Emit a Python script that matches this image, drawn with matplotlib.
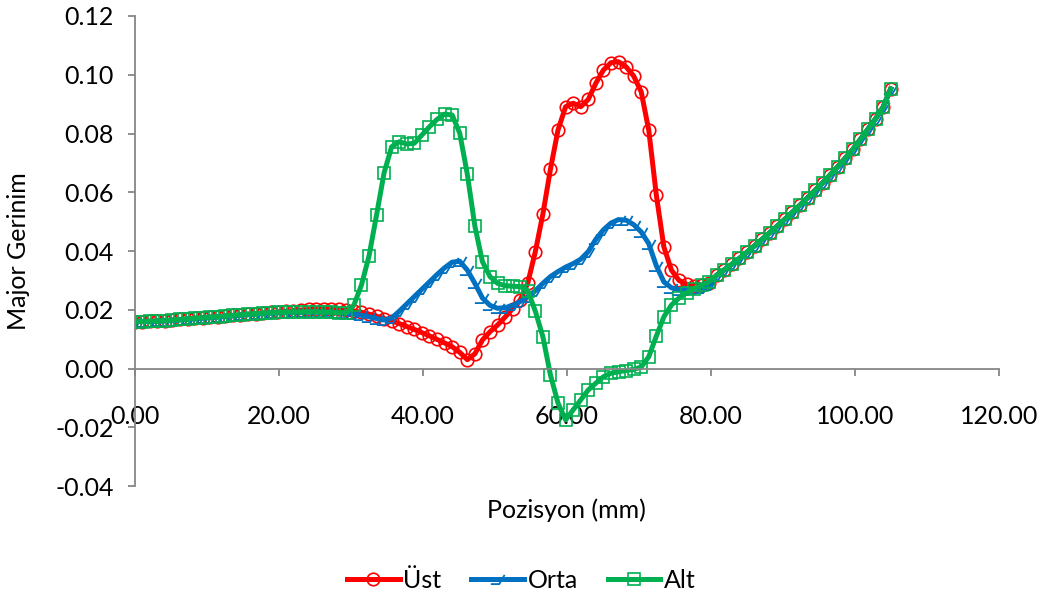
import matplotlib
matplotlib.use('Agg')
import matplotlib.pyplot as plt
from matplotlib.path import Path
from matplotlib.ticker import FuncFormatter, MultipleLocator
import numpy as np

plt.rcParams['font.family'] = ['Lato', 'DejaVu Sans']

# position step of the measurements (mm)
pos = np.arange(101) * 1.05

# shared tail, from n=77 (80.85 mm) to n=100 (105 mm)
tail = [0.0318, 0.0336, 0.0355, 0.0375, 0.0396, 0.0418, 0.0440, 0.0462,
        0.0485, 0.0508, 0.0532, 0.0556, 0.0581, 0.0606, 0.0632, 0.0659,
        0.0687, 0.0716, 0.0746, 0.0780, 0.0815, 0.0850, 0.0890, 0.0952]

ust = [0.0160, 0.0160, 0.0161, 0.0162, 0.0163, 0.0165, 0.0167, 0.0169, 0.0171, 0.0173,
       0.0175, 0.0177, 0.0179, 0.0181, 0.0183, 0.0185, 0.0187, 0.0189, 0.0191, 0.0193,
       0.0195, 0.0197, 0.0199, 0.0201, 0.0203, 0.0204, 0.0204, 0.0203, 0.0200, 0.0196,
       0.0191, 0.0185, 0.0178, 0.0170, 0.0162, 0.0153, 0.0143, 0.0133, 0.0122, 0.0111,
       0.0099, 0.0087, 0.0074, 0.0055, 0.0030, 0.0050, 0.0097, 0.0125, 0.0148, 0.0175,
       0.0204, 0.0233, 0.0291, 0.0398, 0.0526, 0.0679, 0.0812, 0.0891, 0.0903, 0.0891,
       0.0916, 0.0971, 0.1016, 0.1041, 0.1044, 0.1027, 0.0996, 0.0942, 0.0812, 0.0591,
       0.0414, 0.0335, 0.0300, 0.0287, 0.0282, 0.0284, 0.0290] + tail

orta = [0.0160, 0.0160, 0.0160, 0.0161, 0.0162, 0.0163, 0.0165, 0.0167, 0.0169, 0.0171,
        0.0173, 0.0175, 0.0177, 0.0179, 0.0181, 0.0183, 0.0185, 0.0186, 0.0188, 0.0189,
        0.0190, 0.0191, 0.0191, 0.0192, 0.0192, 0.0192, 0.0191, 0.0190, 0.0188, 0.0185,
        0.0181, 0.0176, 0.0170, 0.0165, 0.0172, 0.0195, 0.0220, 0.0245, 0.0270, 0.0295,
        0.0320, 0.0343, 0.0362, 0.0365, 0.0335, 0.0290, 0.0240, 0.0215, 0.0205, 0.0207,
        0.0215, 0.0228, 0.0245, 0.0265, 0.0290, 0.0313, 0.0330, 0.0345, 0.0357, 0.0372,
        0.0398, 0.0440, 0.0472, 0.0495, 0.0507, 0.0505, 0.0490, 0.0465, 0.0425, 0.0350,
        0.0295, 0.0275, 0.0268, 0.0267, 0.0270, 0.0275, 0.0283] + tail

alt = [0.0160, 0.0160, 0.0161, 0.0162, 0.0163, 0.0165, 0.0167, 0.0169, 0.0171, 0.0173,
       0.0175, 0.0177, 0.0179, 0.0181, 0.0183, 0.0185, 0.0187, 0.0189, 0.0190, 0.0191,
       0.0192, 0.0193, 0.0193, 0.0193, 0.0193, 0.0192, 0.0191, 0.0190, 0.0190, 0.0216,
       0.0284, 0.0383, 0.0523, 0.0667, 0.0755, 0.0772, 0.0764, 0.0767, 0.0795, 0.0823,
       0.0848, 0.0866, 0.0863, 0.0801, 0.0662, 0.0485, 0.0364, 0.0313, 0.0290, 0.0282,
       0.0280, 0.0279, 0.0265, 0.0195, 0.0108, -0.0022, -0.0118, -0.0175, -0.0141, -0.0107,
       -0.0073, -0.0050, -0.0028, -0.0016, -0.0011, -0.0007, -0.0003, 0.0005, 0.0040, 0.0110,
       0.0176, 0.0216, 0.0240, 0.0258, 0.0272, 0.0284, 0.0296] + tail

# half open triangle marker used for the middle series
tri = Path([(-1.0, -0.6), (0.1, -0.6), (0.8, 0.6)],
           [Path.MOVETO, Path.LINETO, Path.LINETO])

fig = plt.figure(figsize=(10.43, 5.97), dpi=100)
ax = fig.add_axes([0.1291, 0.1859, 0.8284, 0.7873])

ax.plot(pos, ust, color='#FF0000', lw=3.6, marker='o', ms=9,
        mfc='none', mec='#FF0000', mew=1.2, label='Üst')
ax.plot(pos, orta, color='#0070C0', lw=3.6, marker=tri, ms=11,
        mfc='none', mec='#0070C0', mew=1.3, label='Orta')
ax.plot(pos, alt, color='#00B050', lw=3.6, marker='s', ms=8,
        mfc='none', mec='#00B050', mew=1.2, label='Alt')

ax.set_xlim(0, 120)
ax.set_ylim(-0.04, 0.12)
ax.xaxis.set_major_locator(MultipleLocator(20))
ax.yaxis.set_major_locator(MultipleLocator(0.02))
fmt = FuncFormatter(lambda v, p: ('%.2f' % v).replace('\u2212', '-'))
ax.xaxis.set_major_formatter(fmt)
ax.yaxis.set_major_formatter(fmt)

for s in ['top', 'right']:
    ax.spines[s].set_visible(False)
ax.spines['bottom'].set_position(('data', 0))
for s in ['left', 'bottom']:
    ax.spines[s].set_color('#868686')
    ax.spines[s].set_linewidth(1.3)

ax.tick_params(axis='both', direction='out', length=5, width=1.3,
               color='#868686', labelsize=18, labelcolor='black')
ax.tick_params(axis='x', pad=21)
ax.tick_params(axis='y', pad=10)

ax.set_xlabel('Pozisyon (mm)', fontsize=18, labelpad=0)
ax.xaxis.set_label_coords(0.5, -0.026)
ax.set_ylabel('Major Gerinim', fontsize=18)
ax.yaxis.set_label_coords(-0.121, 0.5)

fig.legend(loc='center', bbox_to_anchor=(0.5, 1 - 580 / 597), ncol=3,
           frameon=False, fontsize=18, handlelength=2.1, columnspacing=1.2,
           handletextpad=0.15)

fig.savefig('out.png', dpi=100)
